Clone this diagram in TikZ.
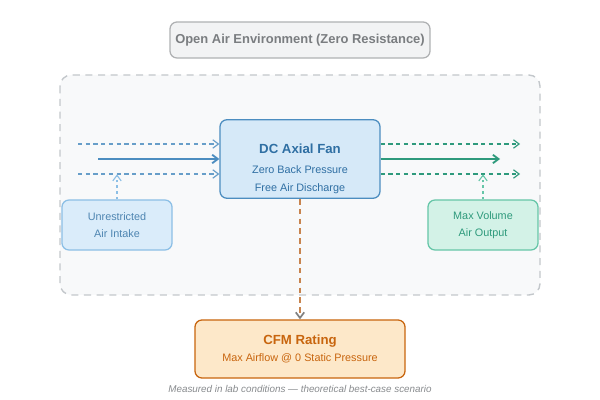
\documentclass[tikz,border=0pt]{standalone}
\usepackage{fontspec}
\setmainfont{Liberation Sans}
\usetikzlibrary{arrows.meta, positioning}

\definecolor{envgray}{HTML}{7A7D80}
\definecolor{envfill}{HTML}{F2F3F4}
\definecolor{zonefill}{HTML}{F8F9FA}
\definecolor{zoneline}{HTML}{C3C7CB}
\definecolor{fanblue}{HTML}{4C8DC0}
\definecolor{fanfill}{HTML}{D6E9F8}
\definecolor{fantext}{HTML}{2F6FA3}
\definecolor{inblue}{HTML}{8CBFE6}
\definecolor{infill}{HTML}{DAECFA}
\definecolor{outgreen}{HTML}{2E9A7C}
\definecolor{outline}{HTML}{66C6A8}
\definecolor{outfill}{HTML}{D3F2E7}
\definecolor{cfmorange}{HTML}{C8650E}
\definecolor{cfmfill}{HTML}{FDE8C9}
\definecolor{cfmdash}{HTML}{C8844E}

\begin{document}
\begin{tikzpicture}[x=0.025cm, y=-0.025cm,
    box/.style={rectangle, rounded corners=5pt, draw, line width=0.9pt, align=center},
    flowtip/.style={-{Straight Barb[length=4pt, width=6pt]}},
    sub/.style={font=\fontsize{7.7}{12}\selectfont}]
    \useasboundingbox (0,0) rectangle (600,400);

    % open air zone
    \draw [zoneline, fill=zonefill, dashed, dash pattern=on 5pt off 4pt, line width=1pt, rounded corners=8pt] (60,75) rectangle (540,295);

    \node (env) [box, draw=envgray!60, fill=envfill, minimum width=6.5cm, minimum height=0.9cm, text=envgray, font=\bfseries\fontsize{9.2}{10}\selectfont] at (300,40) {Open Air Environment (Zero Resistance)};

    \node (fan) [box, draw=fanblue, fill=fanfill, text=fantext, minimum width=4cm, minimum height=1.95cm] at (300,159)
        {\rule{0pt}{20.6pt}{\bfseries\fontsize{9.4}{14}\selectfont DC Axial Fan}\\[2.2pt]{\fontsize{7.7}{14.2}\selectfont Zero Back Pressure}\\[0.8pt]{\fontsize{7.7}{12.8}\selectfont Free Air Discharge}};
    \node (intake) [box, draw=inblue, fill=infill, text=fantext!85, minimum width=2.75cm, minimum height=1.25cm, sub] at (117,225) {Unrestricted\\Air Intake};
    \node (output) [box, draw=outline, fill=outfill, text=outgreen, minimum width=2.75cm, minimum height=1.25cm, sub] at (483,225) {Max Volume\\Air Output};
    \node (cfm) [box, draw=cfmorange, fill=cfmfill, text=cfmorange, minimum width=5.25cm, minimum height=1.45cm] at (300,349)
        {{\bfseries\fontsize{9.4}{14}\selectfont CFM Rating}\\{\fontsize{7.7}{11.5}\selectfont Max Airflow @ 0 Static Pressure}};
    \node (note) [text=envgray!90, font=\itshape\fontsize{7}{8}\selectfont] at (300,389) {Measured in lab conditions — theoretical best-case scenario};

    % free ends of the air streams
    \coordinate (inA) at (78,144);
    \coordinate (inB) at (98,159);
    \coordinate (inC) at (78,174);
    \coordinate (outA) at (520,144);
    \coordinate (outB) at (500,159);
    \coordinate (outC) at (520,174);

    % incoming air
    \draw [flowtip, fanblue!85, thick, dashed, dash pattern=on 3pt off 2.5pt] (inA) -- (fan.west |- inA);
    \draw [flowtip, fanblue, line width=1.3pt] (inB) -- (fan.west |- inB);
    \draw [flowtip, fanblue!85, thick, dashed, dash pattern=on 3pt off 2.5pt] (inC) -- (fan.west |- inC);
    \draw [flowtip, inblue, thick, dash pattern=on 2pt off 2pt] (intake.north) -- ++(0,-25);

    % outgoing air
    \draw [flowtip, outgreen, thick, dashed, dash pattern=on 3pt off 2.5pt] (fan.east |- outA) -- (outA);
    \draw [flowtip, outgreen, line width=1.3pt] (fan.east |- outB) -- (outB);
    \draw [flowtip, outgreen, thick, dashed, dash pattern=on 3pt off 2.5pt] (fan.east |- outC) -- (outC);
    \draw [flowtip, outline, thick, dash pattern=on 2pt off 2pt] (output.north) -- ++(0,-25);

    % rating
    \draw [-{Straight Barb[length=4pt, width=6pt, color=gray]}, cfmdash, line width=1.2pt, dash pattern=on 4pt off 3pt] (fan.south) -- (cfm.north);
\end{tikzpicture}
\end{document}
